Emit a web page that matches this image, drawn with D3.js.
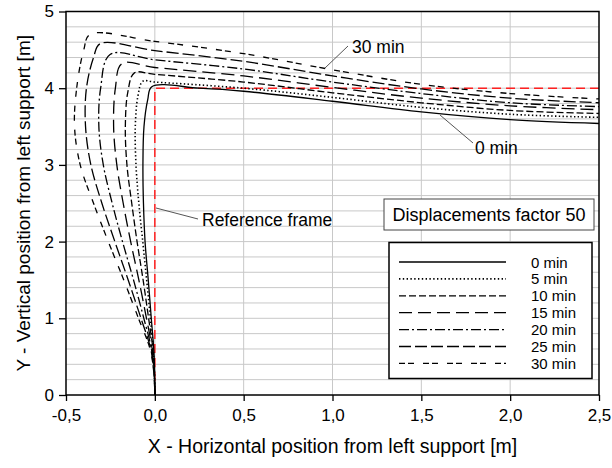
<!DOCTYPE html>
<html>
<head>
<meta charset="utf-8">
<script src="https://cdn.jsdelivr.net/npm/d3@7"></script>
<style>
  body { margin: 0; background: #fff; }
  text { font-family: Arial, "Liberation Sans", sans-serif; fill: #000; }
</style>
</head>
<body>
<svg id="chart" width="612" height="468"></svg>
<script>
// deformed shapes (x, y in m)
const timeLabels = ['0 min', '5 min', '10 min', '15 min', '20 min', '25 min', '30 min'];

const shape0 = [[0,0],[-0.001,0.3],[-0.006,0.6],[-0.02,1.0],[-0.037,1.5],[-0.055,2.0],[-0.064,2.5],[-0.067,3.0],[-0.061,3.5],[-0.04,3.85],[-0.017,4.02],
  [0.25,4.0],[0.5,3.96],[1.0,3.83],[1.5,3.69],[2.0,3.59],[2.5,3.54]];
const shape5 = [[0,0],[-0.002,0.3],[-0.009,0.6],[-0.025,1.0],[-0.046,1.5],[-0.068,2.0],[-0.09,2.5],[-0.106,3.0],[-0.11,3.5],[-0.095,3.9],[-0.068,4.09],
  [0,4.08],[0.5,4.0],[1.0,3.88],[1.5,3.75],[2.0,3.66],[2.5,3.62]];
const shape10 = [[0,0],[-0.003,0.3],[-0.011,0.6],[-0.035,1.0],[-0.066,1.5],[-0.1,2.0],[-0.13,2.5],[-0.157,3.0],[-0.166,3.5],[-0.152,3.95],[-0.115,4.2],
  [0,4.18],[0.5,4.08],[1.0,3.94],[1.5,3.81],[2.0,3.71],[2.5,3.67]];
const shape15 = [[0,0],[-0.003,0.3],[-0.015,0.6],[-0.047,1.0],[-0.09,1.5],[-0.136,2.0],[-0.178,2.5],[-0.214,3.0],[-0.232,3.5],[-0.222,4.0],[-0.186,4.32],
  [0,4.27],[0.5,4.16],[1.0,4.01],[1.5,3.87],[2.0,3.77],[2.5,3.72]];
const shape20 = [[0,0],[-0.004,0.3],[-0.019,0.6],[-0.062,1.0],[-0.12,1.5],[-0.182,2.0],[-0.24,2.5],[-0.29,3.0],[-0.315,3.5],[-0.305,4.0],[-0.252,4.44],
  [0,4.37],[0.5,4.25],[1.0,4.08],[1.5,3.93],[2.0,3.81],[2.5,3.76]];
const shape25 = [[0,0],[-0.005,0.3],[-0.023,0.6],[-0.078,1.0],[-0.15,1.5],[-0.225,2.0],[-0.298,2.5],[-0.36,3.0],[-0.39,3.5],[-0.385,4.0],[-0.345,4.4],[-0.308,4.58],
  [0,4.49],[0.5,4.35],[1.0,4.16],[1.5,3.99],[2.0,3.87],[2.5,3.81]];
const shape30 = [[0,0],[-0.006,0.3],[-0.027,0.6],[-0.092,1.0],[-0.175,1.5],[-0.262,2.0],[-0.345,2.5],[-0.42,3.0],[-0.452,3.5],[-0.44,4.0],[-0.40,4.5],[-0.365,4.7],
  [0,4.61],[0.5,4.45],[1.0,4.24],[1.5,4.05],[2.0,3.93],[2.5,3.86]];

const shapes = [shape0, shape5, shape10, shape15, shape20, shape25, shape30];
const dashes = [null, '1.4 2.4', '7 3', '13 6', '10 3 2 3', '12 4', '6 3 6 9'];

const referenceFrame = [[0,0],[0,4],[2.5,4]];

const xTicks = [-0.5, 0, 0.5, 1.0, 1.5, 2.0, 2.5];
const yTicks = [0, 1, 2, 3, 4, 5];

const svg = d3.select('#chart');
const m = { left: 66, top: 11.5, right: 599, bottom: 395 };

const x = d3.scaleLinear().domain([-0.5, 2.5]).range([m.left, m.right]);
const y = d3.scaleLinear().domain([0, 5]).range([m.bottom, m.top]);

// gridlines
const grid = svg.append('g');
grid.selectAll('line.h')
  .data(d3.range(1, 25).map(i => i * 0.2))
  .enter().append('line')
  .attr('x1', m.left).attr('x2', m.right)
  .attr('y1', d => y(d)).attr('y2', d => y(d))
  .attr('stroke', '#c8c8c8').attr('stroke-width', 1);
grid.selectAll('line.v')
  .data(xTicks.slice(1, -1))
  .enter().append('line')
  .attr('y1', m.top).attr('y2', m.bottom)
  .attr('x1', d => x(d)).attr('x2', d => x(d))
  .attr('stroke', '#c8c8c8').attr('stroke-width', 1);

// reference frame
const line = d3.line().x(d => x(d[0])).y(d => y(d[1]));
svg.append('path')
  .attr('d', line(referenceFrame))
  .attr('fill', 'none')
  .attr('stroke', '#ff2020')
  .attr('stroke-width', 1.5)
  .attr('stroke-dasharray', '9 5');

// deformed shapes
const curve = d3.line().x(d => x(d[0])).y(d => y(d[1])).curve(d3.curveCatmullRom.alpha(0.5));
svg.append('g').selectAll('path')
  .data(shapes)
  .enter().append('path')
  .attr('d', d => curve(d))
  .attr('fill', 'none')
  .attr('stroke', '#000')
  .attr('stroke-width', (d, i) => i === 1 ? 1.6 : 1.3)
  .attr('stroke-dasharray', (d, i) => dashes[i]);

// frame and axes
svg.append('rect')
  .attr('x', m.left).attr('y', m.top)
  .attr('width', m.right - m.left).attr('height', m.bottom - m.top)
  .attr('fill', 'none').attr('stroke', '#000').attr('stroke-width', 1.5);

const xAxis = svg.append('g')
  .attr('transform', `translate(0,${m.bottom})`)
  .call(d3.axisBottom(x).tickValues(xTicks).tickSize(6).tickSizeOuter(0)
    .tickFormat(d => d3.format('.1f')(d).replace('.', ',').replace('−', '-')));
const yAxis = svg.append('g')
  .attr('transform', `translate(${m.left},0)`)
  .call(d3.axisLeft(y).tickValues(yTicks).tickSize(7).tickSizeOuter(0).tickFormat(d3.format('d')));
[xAxis, yAxis].forEach(a => {
  a.select('.domain').remove();
  a.selectAll('.tick line').attr('stroke', '#000').attr('stroke-width', 1.3);
  a.selectAll('.tick text').attr('font-size', 17).attr('font-family', 'Arial, "Liberation Sans", sans-serif');
});
xAxis.selectAll('.tick text').attr('dy', '1.0em');
yAxis.selectAll('.tick text').attr('x', -12);

svg.append('text')
  .attr('x', (m.left + m.right) / 2).attr('y', 453)
  .attr('text-anchor', 'middle').attr('font-size', 19.5)
  .text('X - Horizontal position from left support [m]');
svg.append('text')
  .attr('transform', `translate(30,${(m.top + m.bottom) / 2}) rotate(-90)`)
  .attr('text-anchor', 'middle').attr('font-size', 19)
  .text('Y - Vertical position from left support [m]');

// annotations
const notes = [
  { text: '30 min', from: [348, 46], to: [325, 68], tx: 352, ty: 53 },
  { text: '0 min', from: [473, 143], to: [440, 115], tx: 475, ty: 154 },
  { text: 'Reference frame', from: [198, 219], to: [156, 208], tx: 202, ty: 226 }
];
notes.forEach(n => {
  svg.append('line')
    .attr('x1', n.from[0]).attr('y1', n.from[1])
    .attr('x2', n.to[0]).attr('y2', n.to[1])
    .attr('stroke', '#555').attr('stroke-width', 1);
  svg.append('text').attr('x', n.tx).attr('y', n.ty)
    .attr('font-size', 17.5).text(n.text);
});

// factor box
svg.append('rect')
  .attr('x', 384).attr('y', 199).attr('width', 210).attr('height', 31)
  .attr('fill', '#fff').attr('stroke', '#444').attr('stroke-width', 1);
svg.append('text')
  .attr('x', 489).attr('y', 221).attr('text-anchor', 'middle')
  .attr('font-size', 18).text('Displacements factor 50');

// legend
svg.append('rect')
  .attr('x', 389).attr('y', 242.5).attr('width', 203).attr('height', 136)
  .attr('fill', '#fff').attr('stroke', '#000').attr('stroke-width', 1.5);
const leg = svg.append('g').selectAll('g')
  .data(timeLabels)
  .enter().append('g')
  .attr('transform', (d, i) => `translate(0,${262 + i * 16.9})`);
leg.append('line')
  .attr('x1', 399).attr('x2', 506)
  .attr('stroke', '#000')
  .attr('stroke-width', (d, i) => i === 1 ? 1.6 : 1.3)
  .attr('stroke-dasharray', (d, i) => dashes[i]);
leg.append('text')
  .attr('x', 531).attr('y', 5.5)
  .attr('font-size', 15)
  .text(d => d);
</script>
</body>
</html>
